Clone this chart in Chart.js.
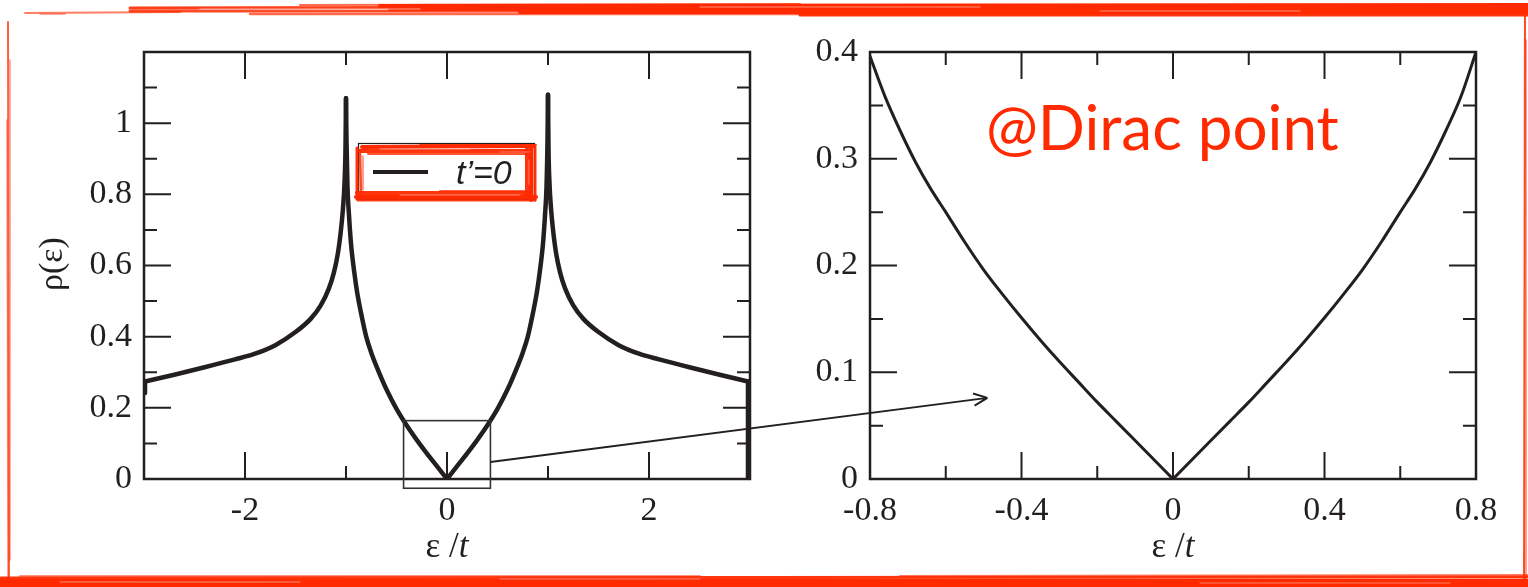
<!DOCTYPE html>
<html>
<head>
<meta charset="utf-8">
<script src="https://cdn.jsdelivr.net/npm/chart.js@4.4.1/dist/chart.umd.min.js"></script>
<style>
  html, body { margin: 0; padding: 0; background: #fff; }
  #stage { position: relative; width: 1528px; height: 587px; overflow: hidden; background: #fff; }
  #stage canvas { position: absolute; top: 0; }
  #left { left: 0; }
  #right { left: 790px; }
  #overlay { left: 0; pointer-events: none; }
</style>
</head>
<body>
<div id="stage">
  <canvas id="left" width="790" height="587"></canvas>
  <canvas id="right" width="738" height="587"></canvas>
  <canvas id="overlay" width="1528" height="587"></canvas>
</div>
<script>
const INK = '#231f20';
const RED = '#ff2a00';
const SERIF = '"Liberation Serif", "Times New Roman", serif';

// density of states over the whole band, t' = 0
const leftEps = [-2.99, -2.99, -2.7, -2.4, -2.1, -1.9, -1.7, -1.5, -1.35, -1.25, -1.17, -1.12, -1.08, -1.05, -1.03, -1.015, -1.005, -1.0,
  -0.995, -0.985, -0.97, -0.95, -0.92, -0.89, -0.85, -0.8, -0.75, -0.7, -0.6, -0.5, -0.4, -0.3, -0.2, -0.1, 0,
  0.1, 0.2, 0.3, 0.4, 0.5, 0.6, 0.7, 0.75, 0.8, 0.85, 0.89, 0.92, 0.95, 0.97, 0.985, 0.995,
  1.0, 1.005, 1.015, 1.03, 1.05, 1.08, 1.12, 1.17, 1.25, 1.35, 1.5, 1.7, 1.9, 2.1, 2.4, 2.7, 2.98, 2.98];
const leftRho = [0.242, 0.274, 0.293, 0.314, 0.336, 0.352, 0.376, 0.413, 0.45, 0.488, 0.535, 0.58, 0.635, 0.70, 0.76, 0.83, 0.93, 1.07,
  0.95, 0.82, 0.74, 0.66, 0.585, 0.525, 0.465, 0.40, 0.355, 0.318, 0.252, 0.197, 0.151, 0.110, 0.072, 0.036, 0,
  0.036, 0.072, 0.110, 0.151, 0.197, 0.252, 0.318, 0.355, 0.40, 0.465, 0.525, 0.585, 0.66, 0.74, 0.82, 0.95,
  1.08, 0.93, 0.83, 0.76, 0.70, 0.635, 0.58, 0.535, 0.488, 0.45, 0.413, 0.376, 0.352, 0.336, 0.314, 0.293, 0.274, 0];

// close-up around the Dirac point
const rightEps = [-0.8, -0.76, -0.72, -0.68, -0.64, -0.6, -0.55, -0.5, -0.45, -0.4, -0.35, -0.3, -0.25, -0.2, -0.15, -0.1, -0.05, 0,
  0.05, 0.1, 0.15, 0.2, 0.25, 0.3, 0.35, 0.4, 0.45, 0.5, 0.55, 0.6, 0.64, 0.68, 0.72, 0.76, 0.8];
const rightRho = [0.396, 0.358, 0.326, 0.297, 0.272, 0.250, 0.222, 0.196, 0.173, 0.151, 0.130, 0.110, 0.091, 0.072, 0.054, 0.036, 0.018, 0,
  0.018, 0.036, 0.054, 0.072, 0.091, 0.110, 0.130, 0.151, 0.173, 0.196, 0.222, 0.250, 0.272, 0.297, 0.326, 0.358, 0.400];

const leftXTicks = [-3, -2, -1, 0, 1, 2, 3];
const leftXLabels = [-2, 0, 2];
const leftYTicks = [0, 0.1, 0.2, 0.3, 0.4, 0.5, 0.6, 0.7, 0.8, 0.9, 1, 1.1, 1.2];
const leftYLabels = [0, 0.2, 0.4, 0.6, 0.8, 1];
const rightXTicks = [-0.8, -0.6, -0.4, -0.2, 0, 0.2, 0.4, 0.6, 0.8];
const rightXLabels = [-0.8, -0.4, 0, 0.4, 0.8];
const rightYTicks = [0, 0.05, 0.1, 0.15, 0.2, 0.25, 0.3, 0.35, 0.4];
const rightYLabels = [0, 0.1, 0.2, 0.3, 0.4];

const legendLabel = 't\u2019=0';
const noteText = '@Dirac point';

// zoom window on the left panel and where its arrow points on the right one
const boxEps = [-0.43, 0.43];
const boxRho = [-0.026, 0.164];
const arrowFrom = [0.43, 0.048];
const arrowTo = [-0.49, 0.076];

const has = (list, v) => list.some(w => Math.abs(w - v) < 1e-9);

// cut the curve at its peaks, the Dirac cusp and the band-edge drops so the
// smoothing never rounds off a corner
function pieces(xs, ys) {
  const out = [];
  let cur = [{ x: xs[0], y: ys[0] }];
  let dir = 0;
  for (let i = 1; i < xs.length; i++) {
    const p = { x: xs[i], y: ys[i] };
    const vertical = xs[i] === xs[i - 1];
    const d = Math.sign(ys[i] - ys[i - 1]);
    const prevVertical = i > 1 && xs[i - 1] === xs[i - 2];
    if (cur.length > 1 && (vertical || prevVertical || (dir !== 0 && d !== dir))) {
      out.push(cur);
      cur = [cur[cur.length - 1]];
    }
    cur.push(p);
    dir = d;
  }
  out.push(cur);
  return out;
}

function axis(tickList, labels, min, max, pad, afterFit) {
  return {
    type: 'linear',
    min, max,
    grid: { display: false, drawTicks: false },
    border: { display: false },
    afterBuildTicks: s => { s.ticks = tickList.map(v => ({ value: v })); },
    afterFit,
    ticks: {
      autoSkip: false,
      maxRotation: 0,
      padding: pad,
      color: INK,
      font: { family: SERIF, size: 34 },
      callback: v => has(labels, v) ? String(v) : ''
    }
  };
}

// box frame with inward ticks on all four sides, plus the x title
const frame = {
  id: 'frame',
  afterDatasetsDraw(chart, args, opts) {
    const { ctx, chartArea: a, scales: { x, y } } = chart;
    ctx.save();
    ctx.strokeStyle = INK;
    ctx.lineWidth = 2;
    ctx.beginPath();
    x.ticks.forEach(t => {
      const px = x.getPixelForValue(t.value);
      const len = has(opts.xMajor, t.value) ? 27 : 13;
      ctx.moveTo(px, a.bottom); ctx.lineTo(px, a.bottom - len);
      ctx.moveTo(px, a.top); ctx.lineTo(px, a.top + len);
    });
    y.ticks.forEach(t => {
      const py = y.getPixelForValue(t.value);
      const len = has(opts.yMajor, t.value) ? 27 : 13;
      ctx.moveTo(a.left, py); ctx.lineTo(a.left + len, py);
      ctx.moveTo(a.right, py); ctx.lineTo(a.right - len, py);
    });
    ctx.stroke();
    ctx.lineWidth = 2.5;
    ctx.strokeRect(a.left, a.top, a.right - a.left, a.bottom - a.top);

    // "ε /t" with an italic t
    const cx = (a.left + a.right) / 2;
    ctx.fillStyle = INK;
    ctx.textBaseline = 'alphabetic';
    ctx.font = '35px ' + SERIF;
    const head = 'ε /';
    const w1 = ctx.measureText(head).width;
    ctx.font = 'italic 35px ' + SERIF;
    const w2 = ctx.measureText('t').width;
    const sx = cx - (w1 + w2) / 2;
    ctx.font = '35px ' + SERIF;
    ctx.fillText(head, sx, 557);
    ctx.font = 'italic 35px ' + SERIF;
    ctx.fillText('t', sx + w1, 557);
    ctx.restore();
  }
};

// a bundle of straight brush strokes: [x1, y1, x2, y2, width, alpha]
function brush(ctx, strokes, color) {
  ctx.save();
  ctx.lineCap = 'round';
  strokes.forEach(([x1, y1, x2, y2, w, al]) => {
    ctx.strokeStyle = color;
    ctx.globalAlpha = al;
    ctx.lineWidth = w;
    ctx.beginPath();
    ctx.moveTo(x1, y1);
    ctx.lineTo(x2, y2);
    ctx.stroke();
  });
  ctx.restore();
}

const leftDecor = {
  id: 'leftDecor',
  afterDraw(chart) {
    const { ctx, scales: { x, y } } = chart;
    ctx.save();
    // zoom window
    ctx.strokeStyle = '#333';
    ctx.lineWidth = 1.6;
    const bx0 = x.getPixelForValue(boxEps[0]), bx1 = x.getPixelForValue(boxEps[1]);
    const by0 = y.getPixelForValue(boxRho[1]), by1 = y.getPixelForValue(boxRho[0]);
    ctx.strokeRect(bx0, by0, bx1 - bx0, by1 - by0);

    // y title
    ctx.fillStyle = INK;
    ctx.font = '34px ' + SERIF;
    ctx.textAlign = 'center';
    ctx.textBaseline = 'middle';
    ctx.translate(53, 264);
    ctx.rotate(-Math.PI / 2);
    ctx.fillText('ρ(ε)', 0, 0);
    ctx.restore();

    // legend box with a hand-drawn red rim
    const L = 355, T = 143, R = 537, B = 202;
    ctx.save();
    ctx.fillStyle = '#fff';
    ctx.fillRect(L, T, R - L, B - T);
    ctx.strokeStyle = INK;
    ctx.lineWidth = 1.2;
    ctx.strokeRect(358.5, 143.5, 176, 56);
    ctx.restore();
    brush(ctx, [
      // top
      [362, 147, 534, 146, 4, 1], [360, 151, 531, 151, 4, 0.95], [368, 154, 526, 154, 2, 0.8], [420, 145, 536, 145, 2, 0.9],
      // bottom
      [357, 193, 530, 193, 4, 0.95], [356, 197, 536, 197, 4, 1], [358, 200, 535, 200, 3, 0.9], [440, 191, 526, 191, 2, 0.7],
      // left
      [357, 148, 357, 199, 3, 0.95], [360, 150, 361, 196, 2.5, 0.85], [363, 156, 363, 190, 1.5, 0.6],
      // right
      [527, 149, 527, 196, 4, 0.95], [531, 146, 531, 200, 4, 1], [535, 147, 535, 200, 3, 0.95]
    ], RED);
    // dry-brush streaks
    brush(ctx, [
      [380, 149, 470, 149, 0.8, 0.6], [400, 195, 520, 195, 0.8, 0.6], [500, 152, 530, 152, 0.7, 0.5], [529, 160, 529, 185, 0.7, 0.5]
    ], '#fff');
    ctx.save();
    ctx.strokeStyle = INK;
    ctx.lineWidth = 4;
    ctx.beginPath();
    ctx.moveTo(373, 172); ctx.lineTo(428, 172);
    ctx.stroke();
    ctx.fillStyle = INK;
    ctx.font = 'italic 34px "Liberation Sans", Arial, sans-serif';
    ctx.textAlign = 'left';
    ctx.textBaseline = 'alphabetic';
    ctx.fillText(legendLabel, 456, 184);
    ctx.restore();
  }
};

const rightDecor = {
  id: 'rightDecor',
  afterDraw(chart) {
    const { ctx } = chart;
    ctx.save();
    ctx.fillStyle = RED;
    ctx.font = '62px Lato, "Open Sans", sans-serif';
    ctx.textAlign = 'left';
    ctx.textBaseline = 'alphabetic';
    ctx.fillText(noteText, 986 - 790, 150);
    ctx.restore();
  }
};

function makeChart(id, eps, rho, lineW, xCfg, yCfg, padRight, yWidth, plugins, majors) {
  return new Chart(document.getElementById(id), {
    type: 'line',
    data: {
      datasets: pieces(eps, rho).map(seg => ({
        data: seg,
        borderColor: INK,
        borderWidth: lineW,
        borderCapStyle: 'round',
        pointRadius: 0,
        cubicInterpolationMode: 'monotone',
        fill: false
      }))
    },
    options: {
      responsive: false,
      animation: false,
      layout: { padding: { left: 0, top: 52, right: padRight, bottom: 0 } },
      plugins: {
        legend: { display: false },
        tooltip: { enabled: false },
        frame: majors
      },
      scales: {
        x: axis(xCfg.ticks, xCfg.labels, xCfg.min, xCfg.max, 12, s => { s.height = 108; }),
        y: axis(yCfg.ticks, yCfg.labels, yCfg.min, yCfg.max, 12, s => { s.width = yWidth; })
      }
    },
    plugins: [frame].concat(plugins)
  });
}

const leftChart = makeChart('left', leftEps, leftRho, 4.5,
  { ticks: leftXTicks, labels: leftXLabels, min: -3, max: 3 },
  { ticks: leftYTicks, labels: leftYLabels, min: 0, max: 1.2 },
  40, 144, [leftDecor], { xMajor: leftXLabels, yMajor: leftYLabels.concat([1.2]) });

const rightChart = makeChart('right', rightEps, rightRho, 3,
  { ticks: rightXTicks, labels: rightXLabels, min: -0.8, max: 0.8 },
  { ticks: rightYTicks, labels: rightYLabels, min: 0, max: 0.4 },
  52, 80, [rightDecor], { xMajor: rightXLabels, yMajor: rightYLabels });

// arrow from the zoom window to the close-up, and the red sketch frame
(function drawOverlay() {
  const ctx = document.getElementById('overlay').getContext('2d');
  const lx = leftChart.scales.x, ly = leftChart.scales.y;
  const rx = rightChart.scales.x, ry = rightChart.scales.y;
  const x0 = lx.getPixelForValue(arrowFrom[0]), y0 = ly.getPixelForValue(arrowFrom[1]);
  const x1 = rx.getPixelForValue(arrowTo[0]) + 790, y1 = ry.getPixelForValue(arrowTo[1]);
  ctx.strokeStyle = INK;
  ctx.lineWidth = 2;
  ctx.beginPath();
  ctx.moveTo(x0, y0); ctx.lineTo(x1, y1);
  const ang = Math.atan2(y1 - y0, x1 - x0);
  [0.42, -0.42].forEach(d => {
    ctx.moveTo(x1, y1);
    ctx.lineTo(x1 - 15 * Math.cos(ang + d), y1 - 15 * Math.sin(ang + d));
  });
  ctx.stroke();

  brush(ctx, [
    // top band, thin at the left, heavier to the right
    [25, 13, 180, 12, 2, 0.6], [40, 14, 65, 14, 1.5, 0.5],
    [130, 8, 700, 7, 3, 0.9], [130, 11, 900, 11, 3, 0.85], [250, 14, 1100, 14, 2.5, 0.7],
    [380, 6, 1528, 5, 4, 1], [390, 9, 1528, 8, 4, 1], [520, 12, 1528, 12, 4, 1], [800, 15, 1528, 15, 3, 0.95],
    [300, 5, 800, 4, 2, 0.7],
    // bottom band
    [0, 578, 1528, 577, 3, 0.95], [0, 581, 1528, 581, 4, 1], [0, 584, 1528, 584, 4, 1], [0, 587, 1528, 587, 4, 1],
    [20, 576, 700, 576, 2, 0.5], [900, 576, 1528, 575, 2, 0.6],
    // left side
    [8, 22, 9, 580, 2, 0.75], [10, 60, 10, 560, 1.5, 0.5], [7, 120, 8, 587, 1.5, 0.5],
    // right side
    [1525, 14, 1524, 587, 2, 0.85], [1526, 40, 1526, 580, 1.5, 0.6]
  ], RED);
  brush(ctx, [
    [200, 9, 420, 9, 0.8, 0.7], [700, 7, 980, 7, 0.8, 0.6], [1100, 11, 1300, 11, 0.8, 0.6],
    [60, 582, 300, 582, 0.8, 0.6], [500, 579, 700, 579, 0.8, 0.5], [1200, 583, 1450, 583, 0.8, 0.5]
  ], '#fff');
})();
</script>
</body>
</html>
